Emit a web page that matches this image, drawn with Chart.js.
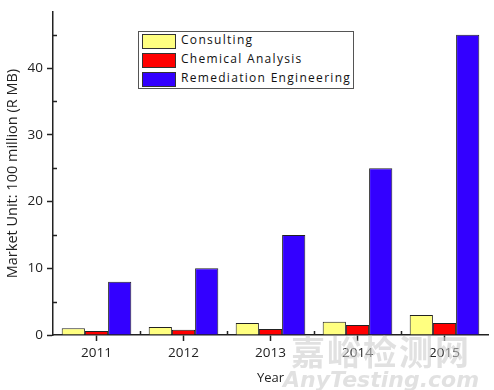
<!DOCTYPE html>
<html>
<head>
<meta charset="utf-8">
<script src="https://cdn.jsdelivr.net/npm/chart.js@4/dist/chart.umd.min.js"></script>
<style>
  html, body { margin: 0; padding: 0; background: #fff; }
  #wrap { position: relative; width: 494px; height: 390px; }
  #legend {
    position: absolute; left: 138px; top: 31px; width: 214px; height: 56px;
    border: 1px solid #555; background: #fff;
    font-family: "Open Sans", "Liberation Sans", sans-serif; font-size: 12px;
    letter-spacing: 1.3px; color: #111;
  }
  #legend .row { position: absolute; left: 3px; height: 14px; }
  #legend .sw { position: absolute; left: 0; top: 0; width: 32px; height: 13px; border: 1px solid #333; }
  #legend .tx { position: absolute; left: 39px; top: -3px; white-space: nowrap; }
  #mark {
    position: absolute; left: 283px; top: 333px; color: rgba(205,205,205,0.6);
    font-family: "Noto Sans CJK SC", sans-serif; pointer-events: none; text-align: center;
  }
  #mark .cn { font-size: 34px; font-weight: bold; line-height: 36px; letter-spacing: 2px; }
  #mark .en { font-size: 22px; font-style: italic; font-weight: bold; line-height: 22px; font-family: "DejaVu Sans", sans-serif; }
</style>
</head>
<body>
<div id="wrap">
  <canvas id="market" width="494" height="390"></canvas>
  <div id="legend"></div>
  <div id="mark"><div class="cn">嘉峪检测网</div><div class="en">AnyTesting.com</div></div>
</div>
<script>
const years = ["2011", "2012", "2013", "2014", "2015"];
const consulting = [1.0, 1.2, 1.8, 2.0, 3.0];
const chemicalAnalysis = [0.6, 0.8, 0.9, 1.5, 1.8];
const remediation = [8, 10, 15, 25, 45];
const yMajorTicks = [0, 10, 20, 30, 40];
const yMinorTicks = [5, 15, 25, 35, 45];

const series = [
  { label: "Consulting", data: consulting, color: "#ffff80" },
  { label: "Chemical Analysis", data: chemicalAnalysis, color: "#ff0000" },
  { label: "Remediation Engineering", data: remediation, color: "#3300ff" }
];

const font = { family: "'Open Sans', 'Liberation Sans', sans-serif", size: 13.5 };

// short ticks between categories and at the 5s on the y axis
const minorTicks = {
  id: "minorTicks",
  afterDraw(chart) {
    const ctx = chart.ctx;
    const x = chart.scales.x, y = chart.scales.y;
    ctx.save();
    ctx.strokeStyle = "#222";
    ctx.lineWidth = 1.5;
    ctx.beginPath();
    yMinorTicks.forEach(v => {
      const py = Math.round(y.getPixelForValue(v)) + 0.5;
      ctx.moveTo(x.left, py);
      ctx.lineTo(x.left + 4, py);
    });
    const half = (x.getPixelForValue(1) - x.getPixelForValue(0)) / 2;
    for (let i = 0; i < years.length - 1; i++) {
      const px = Math.round(x.getPixelForValue(i) + half) + 0.5;
      ctx.moveTo(px, y.bottom);
      ctx.lineTo(px, y.bottom - 4);
    }
    ctx.stroke();
    ctx.restore();
  }
};

new Chart(document.getElementById("market"), {
  type: "bar",
  data: {
    labels: years,
    datasets: series.map(s => ({
      label: s.label,
      data: s.data,
      backgroundColor: s.color,
      borderColor: "#222",
      borderWidth: 1,
      categoryPercentage: 0.8,
      barPercentage: 1.0
    }))
  },
  options: {
    responsive: false,
    animation: false,
    layout: { padding: { top: 12, right: 6, left: 0, bottom: 0 } },
    plugins: { legend: { display: false }, tooltip: { enabled: false } },
    scales: {
      x: {
        offset: true,
        grid: { display: true, drawOnChartArea: false, offset: false, tickLength: 6, tickColor: "#222", tickWidth: 1.5 },
        border: { color: "#222", width: 1.5 },
        ticks: { color: "#222", font: font, padding: 4, maxRotation: 0 },
        title: { display: true, text: "Year", color: "#222", font: { family: font.family, size: 13 }, padding: { top: 6 } },
        afterFit(scale) { scale.height = 55; }
      },
      y: {
        min: 0,
        max: 48.4,
        afterBuildTicks(scale) { scale.ticks = yMajorTicks.map(v => ({ value: v })); },
        grid: { display: true, drawOnChartArea: false, tickLength: 6, tickColor: "#222", tickWidth: 1.5 },
        border: { color: "#222", width: 1.5 },
        ticks: { color: "#222", font: font, padding: 4 },
        title: { display: true, text: "Market Unit: 100 million (R MB)", color: "#222", font: { family: font.family, size: 14.5 }, padding: { bottom: 1 } },
        afterFit(scale) { scale.width = 53; }
      }
    }
  },
  plugins: [minorTicks]
});

const legend = document.getElementById("legend");
series.forEach((s, i) => {
  const row = document.createElement("div");
  row.className = "row";
  row.style.top = (2 + i * 19) + "px";
  row.innerHTML = '<div class="sw" style="background:' + s.color + '"></div><div class="tx">' + s.label + '</div>';
  legend.appendChild(row);
});
</script>
</body>
</html>
